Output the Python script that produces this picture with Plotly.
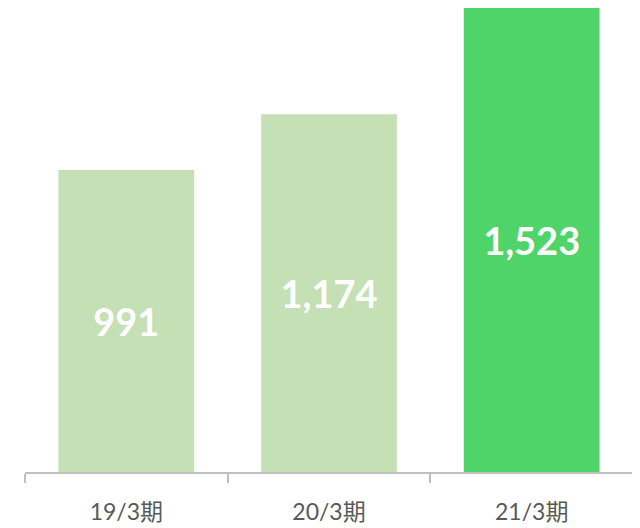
import plotly.graph_objects as go

categories = ["19/3期", "20/3期", "21/3期"]
values = [991, 1174, 1523]
labels = ["991", "1,174", "1,523"]
colors = ["#c5e0b4", "#c5e0b4", "#4fd46a"]

fig = go.Figure(go.Bar(
    x=categories, y=values, text=labels,
    marker=dict(color=colors, line=dict(width=0)),
    textposition="inside", insidetextanchor="middle",
    textfont=dict(family="Lato, 'Noto Sans CJK JP'", size=38, color="white", weight="bold"),
    textangle=0, cliponaxis=False,
))
fig.update_layout(
    width=640, height=528,
    margin=dict(l=17, r=15, t=0, b=64),
    paper_bgcolor="white", plot_bgcolor="white",
    bargap=0.33, showlegend=False,
)
fig.update_xaxes(
    showline=True, linecolor="#bfbfbf", linewidth=2,
    ticks="outside", tickson="boundaries", ticklen=9, tickcolor="#bfbfbf", tickwidth=2,
    tickfont=dict(family="Lato, 'Noto Sans CJK JP'", size=23, color="#595959"),
    ticklabelstandoff=18,
    showgrid=False,
)
fig.update_yaxes(range=[0, 1523], visible=False, showgrid=False, zeroline=False)
fig.write_html("out.html")
